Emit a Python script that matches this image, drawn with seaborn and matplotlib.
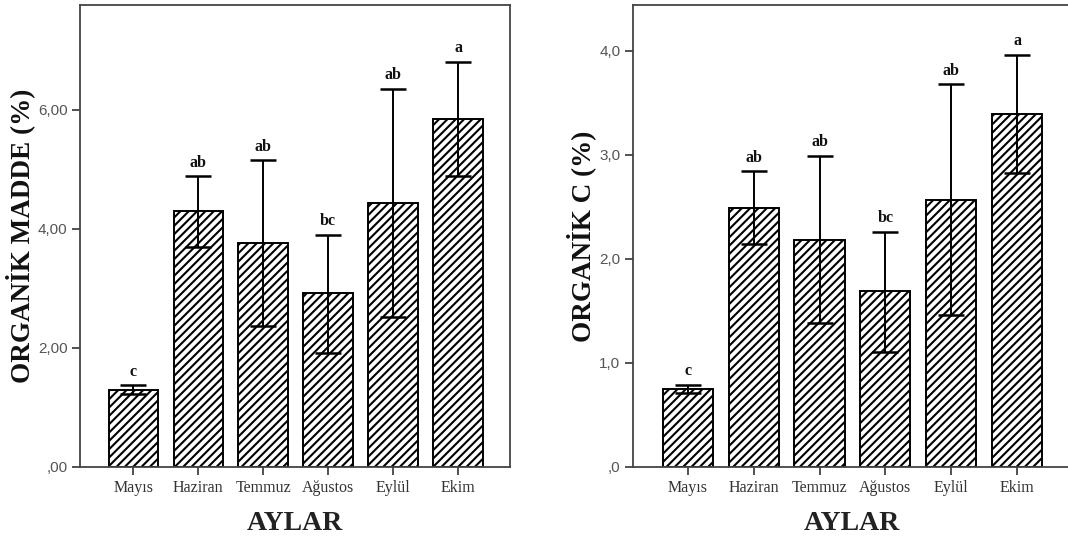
import numpy as np
import pandas as pd
import matplotlib
matplotlib.use("Agg")
import matplotlib.pyplot as plt
import seaborn as sns

# Months
months = ["Mayıs", "Haziran", "Temmuz", "Ağustos", "Eylül", "Ekim"]

# Organic matter (%) means with lower / upper error limits
om_mean = [1.30, 4.30, 3.76, 2.92, 4.43, 5.84]
om_low = [1.22, 3.70, 2.37, 1.92, 2.52, 4.88]
om_high = [1.37, 4.88, 5.15, 3.90, 6.35, 6.81]
om_letters = ["c", "ab", "ab", "bc", "ab", "a"]
om_ticks = [0, 2, 4, 6]
om_ticklabels = [",00", "2,00", "4,00", "6,00"]

# Organic carbon (%) means with lower / upper error limits
oc_mean = [0.75, 2.49, 2.18, 1.69, 2.57, 3.39]
oc_low = [0.71, 2.14, 1.38, 1.11, 1.46, 2.83]
oc_high = [0.79, 2.84, 2.99, 2.26, 3.68, 3.96]
oc_letters = ["c", "ab", "ab", "bc", "ab", "a"]
oc_ticks = [0, 1, 2, 3, 4]
oc_ticklabels = [",0", "1,0", "2,0", "3,0", "4,0"]

sns.set_theme(style="white")
plt.rcParams["hatch.linewidth"] = 1.5
plt.rcParams["hatch.color"] = "black"

SERIF = ["Liberation Serif", "DejaVu Serif"]
SANS = ["Liberation Sans", "DejaVu Sans"]

fig = plt.figure(figsize=(10.68, 5.43), dpi=100)
ax1 = fig.add_axes([80 / 1068, 76 / 543, 430 / 1068, 462 / 543])
ax2 = fig.add_axes([633 / 1068, 76 / 543, 437 / 1068, 462 / 543])


def draw(ax, mean, low, high, letters, ticks, ticklabels, ylabel, ytop, xlim,
         ypad, hide_right=False):
    df = pd.DataFrame({"ay": months, "deger": mean})
    sns.barplot(data=df, x="ay", y="deger", ax=ax, color="white",
                edgecolor="black", linewidth=1.4, width=0.76,
                errorbar=None, saturation=1)
    for p in ax.patches:
        p.set_hatch("////")
        p.set_facecolor("white")
        p.set_edgecolor("black")
    x = np.arange(len(months))
    mean_a = np.asarray(mean)
    yerr = np.vstack([mean_a - np.asarray(low), np.asarray(high) - mean_a])
    ax.errorbar(x, mean_a, yerr=yerr, fmt="none", ecolor="black",
                elinewidth=1.4, capsize=9.5, capthick=1.8, zorder=5)
    for xi, hi, lt in zip(x, high, letters):
        ax.annotate(lt, (xi, hi), xytext=(0, 4), textcoords="offset points",
                    ha="center", va="bottom", fontsize=11.5, fontweight="bold",
                    family=SERIF, color="#111111")
    ax.set_ylim(0, ytop)
    ax.set_xlim(*xlim)
    ax.set_yticks(ticks)
    ax.set_yticklabels(ticklabels, family=SANS, fontsize=11, color="#555555")
    ax.set_xticks(x)
    ax.set_xticklabels(months, family=SERIF, fontsize=11.5, color="#333333")
    ax.tick_params(axis="both", direction="out", length=6, width=1.2,
                   color="#333333", bottom=True, left=True, pad=3)
    ax.set_xlabel("AYLAR", family=SERIF, fontsize=20, fontweight="bold",
                  color="#222222", labelpad=11)
    ax.set_ylabel(ylabel, family=SERIF, fontsize=19.5, fontweight="bold",
                  color="#111111", labelpad=ypad)
    for name, sp in ax.spines.items():
        sp.set_color("#444444")
        sp.set_linewidth(1.3)
    if hide_right:
        ax.spines["right"].set_visible(False)


draw(ax1, om_mean, om_low, om_high, om_letters, om_ticks, om_ticklabels,
     "ORGANİK MADDE (%)", 7.76, (-0.82, 5.8), ypad=2)
draw(ax2, oc_mean, oc_low, oc_high, oc_letters, oc_ticks, oc_ticklabels,
     "ORGANİK C (%)", 4.44, (-0.83, 5.8), ypad=2, hide_right=True)

fig.savefig("out.png", dpi=100)
